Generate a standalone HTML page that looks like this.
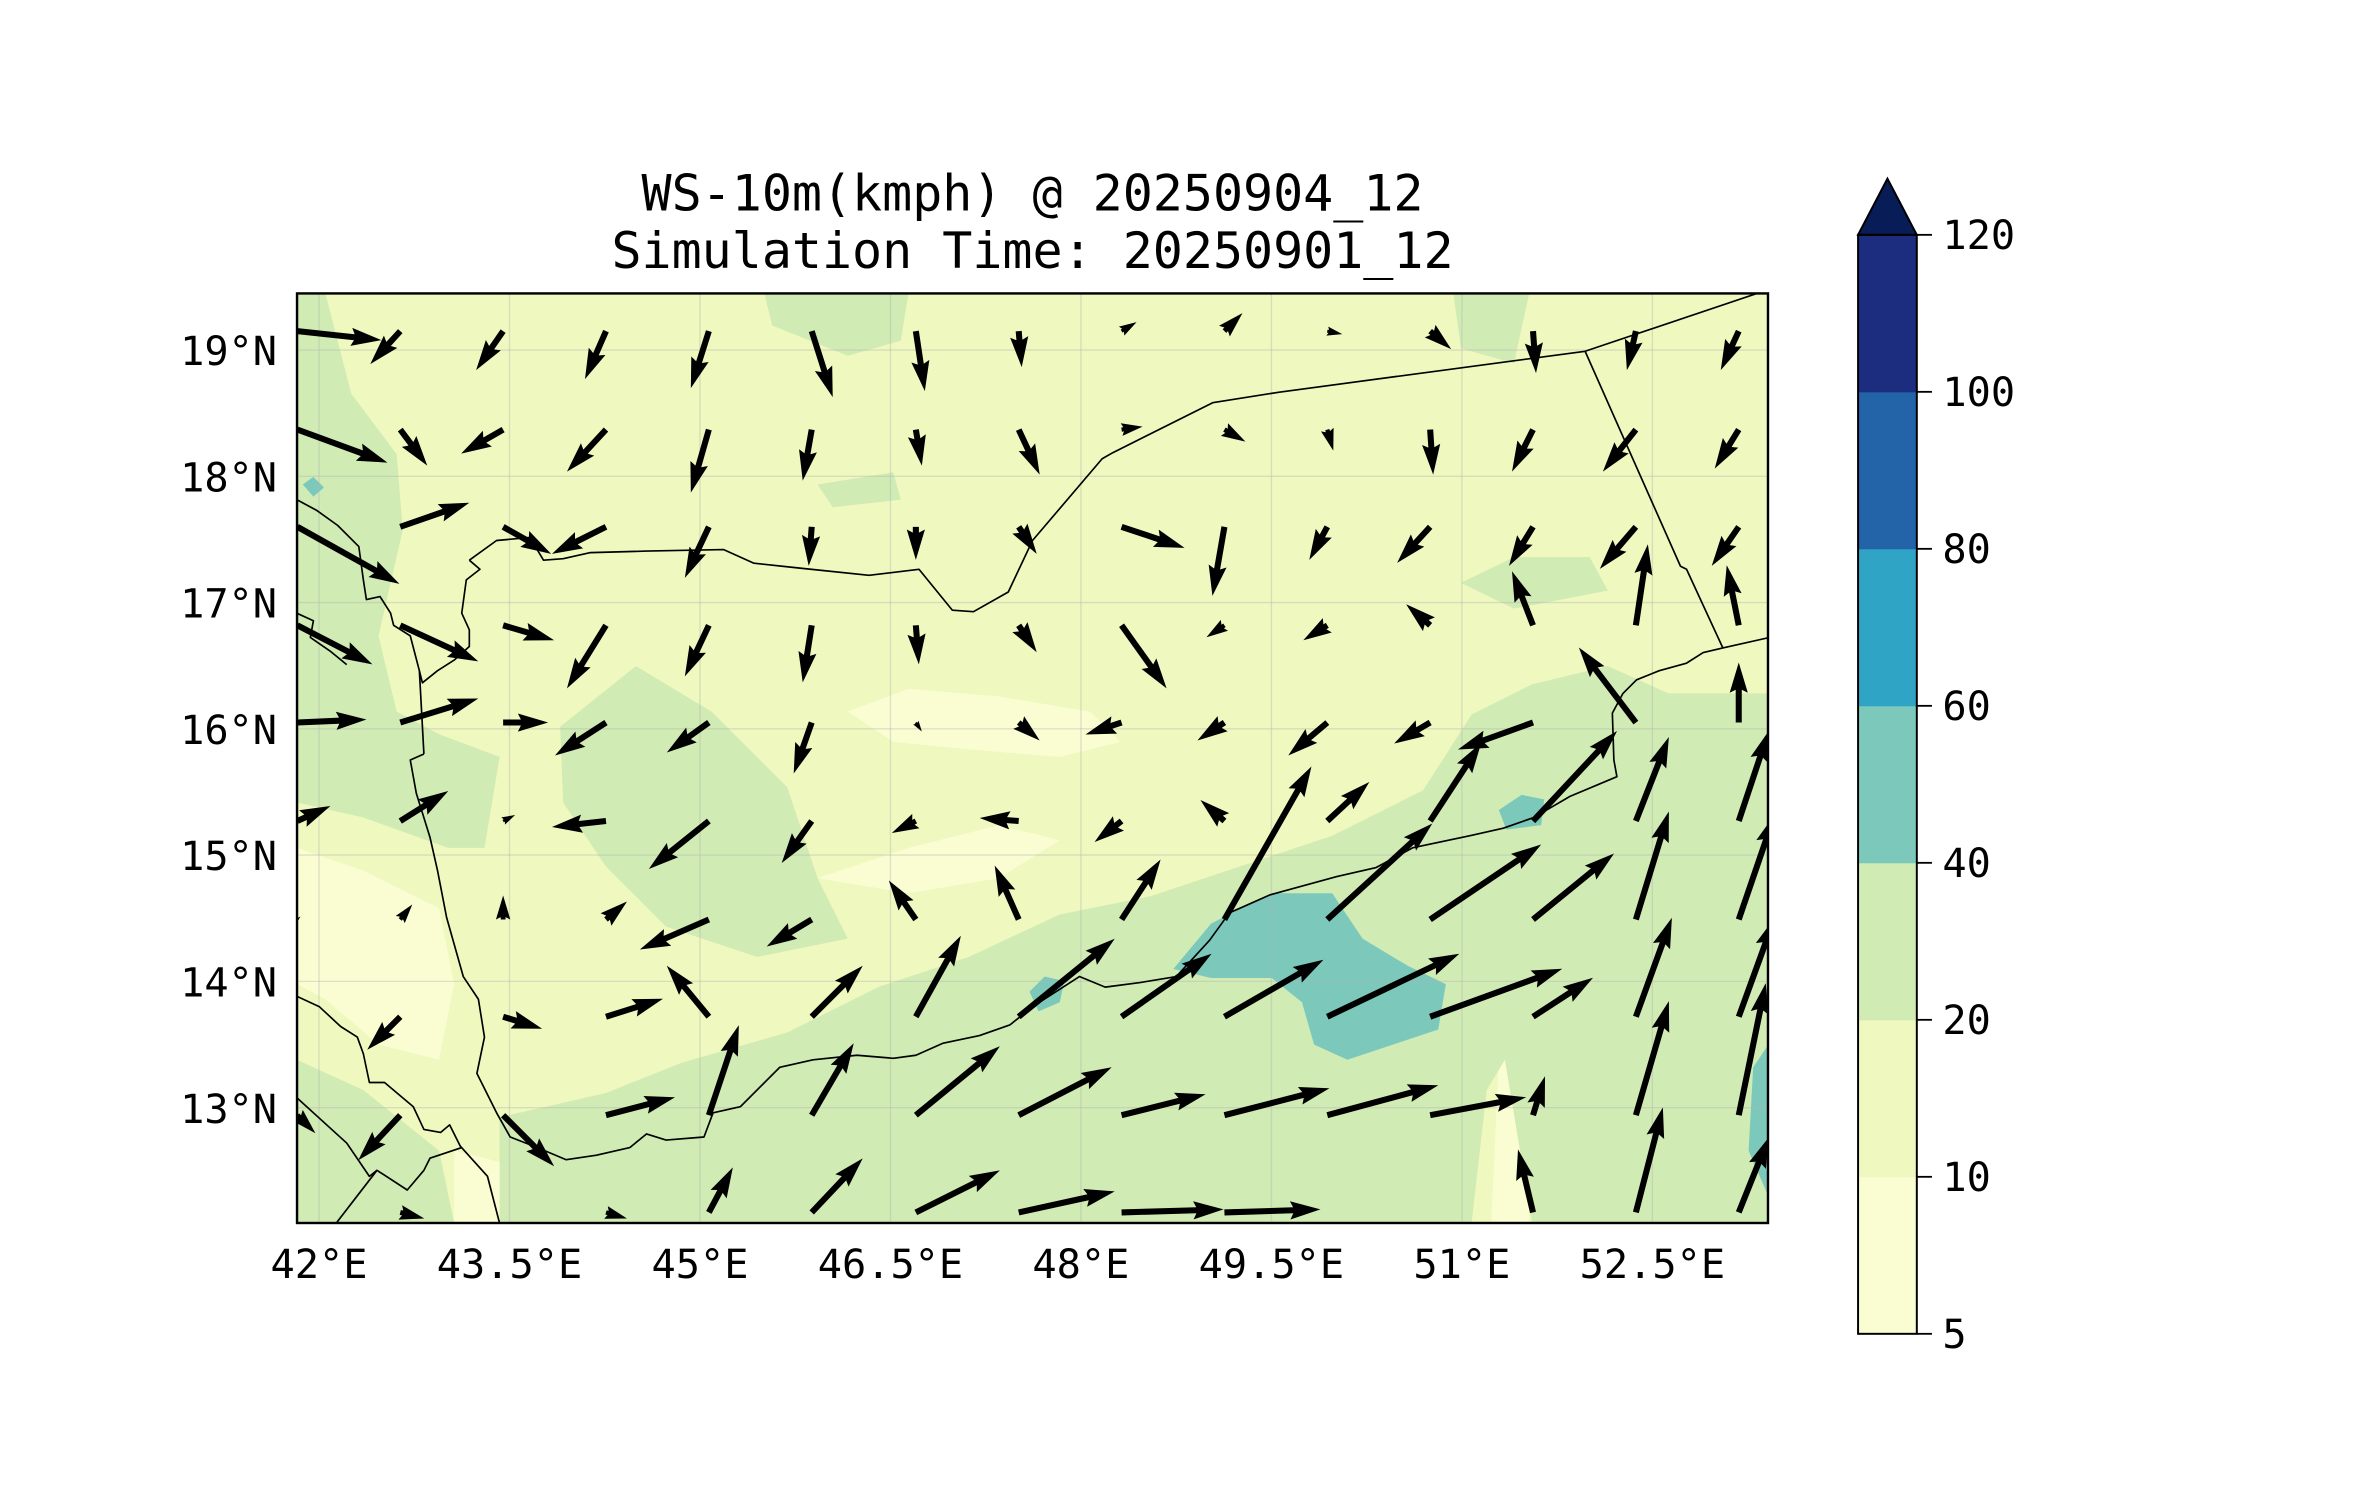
<!DOCTYPE html>
<html><head><meta charset="utf-8"><style>
html,body{margin:0;padding:0;background:#fff;}
svg{display:block;}
text{font-family:"DejaVu Sans Mono","Liberation Mono",monospace;fill:#000;}
</style></head><body>
<svg id="fig" width="2371" height="1500" viewBox="0 0 1566.1 990.75" xmlns="http://www.w3.org/2000/svg">
<defs><clipPath id="mapclip"><rect x="196.2" y="193.8" width="971.6" height="614"/></clipPath></defs>
<rect width="1566.1" height="990.75" fill="#fff"/>
<text x="682" y="139" font-size="33" text-anchor="middle">WS-10m(kmph) @ 20250904_12</text>
<text x="682" y="177" font-size="33" text-anchor="middle">Simulation Time: 20250901_12</text>
<g id="map" clip-path="url(#mapclip)">
<rect x="196.2" y="193.8" width="971.6" height="614" fill="#eff8bf"/>
<g fill="#fafdd2">
<polygon points="196,560 240,575 290,600 300,650 290,700 250,690 215,660 196,650"/>
<polygon points="300,760 340,770 400,775 450,770 470,808 300,808"/>
<polygon points="560,470 600,455 660,460 720,470 740,490 700,500 640,495 590,490"/>
<polygon points="990,700 1010,700 1010,808 985,808"/>
<polygon points="540,580 600,560 660,545 700,555 660,580 600,590"/>
</g>
<g fill="#d0ebb3">
<polygon points="196,194 215,194 232,260 262,300 266,350 250,420 262,470 290,485 330,500 320,560 296,560 240,540 196,530"/>
<polygon points="370,480 420,440 470,470 520,520 540,580 560,620 500,632 440,612 400,572 372,530"/>
<polygon points="330,738 400,722 450,702 520,682 580,652 640,632 700,604 760,592 820,572 880,552 940,522 972,472 1012,452 1062,440 1102,458 1168,458 1168,808 1012,808 1004,760 994,700 982,720 972,808 330,808"/>
<polygon points="505,194 600,194 595,225 560,235 510,215"/>
<polygon points="960,194 1010,194 1000,240 965,230"/>
<polygon points="965,385 1000,368 1050,368 1062,390 1000,402"/>
<polygon points="196,700 240,720 290,760 300,808 196,808"/>
<polygon points="540,320 590,312 595,330 550,335"/>
</g>
<g fill="#7cc9bc">
<polygon points="775,640 800,610 840,590 880,590 900,620 930,638 955,650 950,680 920,690 890,700 868,690 860,662 840,646 800,646"/>
<polygon points="680,655 690,645 703,648 700,662 686,668"/>
<polygon points="1158,705 1168,690 1168,790 1155,760"/>
<polygon points="990,535 1005,525 1020,528 1018,545 995,548"/>
<polygon points="200,320 207,315 214,322 207,328"/>
</g>
<g id="grid"></g>
<g fill="none" stroke="#000" stroke-width="1.1" stroke-linejoin="round">
<polyline points="310,370 328,357 350,355 359,370 372,369 390,365 427,364 478,363 498,372 526,375 574,380 607,376 629,403 643,404 666,391 682,357 728,303 735,299 801,266 845,259 1047,232 1160,194 1168,192"/>
<polyline points="1047,232 1110,374 1114,376 1138,428"/>
<polyline points="1169,421 1138,428 1125,431 1114,438 1096,443 1081,449 1072,458 1065,471 1066,502 1068,513 1037,526 1013,540 993,547 971,552 933,560 909,573 883,579 839,591 812,603 799,621 777,645 753,649 730,652 713,645 682,665 667,677 647,684 623,689 605,697 590,699 566,697 537,700 515,705 489,731 471,735 465,751 440,753 427,749 416,758 394,763 374,766 355,758 337,751 328,735 315,709 320,685 316,660 306,645 295,606 289,575 284,553 275,524 271,502 280,498"/>
<polyline points="310,370 317,376 308,383 305,405 310,416 310,427 300,436 289,443 279,451 277,443"/>
<polyline points="196,330 209,337 223,347 237,361 240,383 242,396 251,394 258,405 260,413 271,420 277,443 280,498"/>
<polyline points="196,405 207,410 205,421 218,430 229,439"/>
<polyline points="196,658 211,665 225,678 236,685 240,696 244,715 254,715 273,731 280,746 291,748 297,743 304,757 322,777 330,808"/>
<polyline points="196,725 229,755 244,777 249,773 269,786 280,773 284,765 305,758"/>
<polyline points="222,808 249,773"/>
</g>
<g id="quiver"></g>
</g>
<rect x="196.2" y="193.8" width="971.6" height="614" fill="none" stroke="#000" stroke-width="1.6"/>
<g id="axes"></g>
<g id="cbar"></g>
</svg>
<script>
// ---- chart data ----
const lonTicks = [42, 43.5, 45, 46.5, 48, 49.5, 51, 52.5];
const lonTickLabels = ["42°E","43.5°E","45°E","46.5°E","48°E","49.5°E","51°E","52.5°E"];
const latTicks = [13, 14, 15, 16, 17, 18, 19];
const latTickLabels = ["13°N","14°N","15°N","16°N","17°N","18°N","19°N"];
const gridLons = [41.83,42.64,43.45,44.26,45.07,45.88,46.70,47.51,48.32,49.13,49.94,50.75,51.56,52.37,53.18];
const gridLats = [19.15,18.37,17.60,16.82,16.05,15.27,14.49,13.72,12.94,12.17];
const windU = [
 [28,-10,-9,-7,-6,7,3,1,5,6,5,7,1,-3,-6],
 [30,9,-14,-13,-6,-3,2,7,7,7,2,1,-7,-11,-8],
 [34,23,16,-18,-8,-1,0,6,21,-4,-6,-11,-8,-12,-9],
 [25,26,17,-13,-8,-3,1,6,15,-6,-8,-8,-7,4,-4],
 [23,26,15,-17,-14,-6,2,7,-12,-9,-13,-12,-25,-19,0],
 [11,16,4,-18,-20,-10,-8,-13,-9,-8,14,17,28,11,10],
 [1,4,0,7,-23,-15,-9,-8,13,29,35,37,27,11,12],
 [0,-11,13,19,-14,17,15,32,30,33,44,44,20,12,12],
 [6,-14,17,23,10,14,28,31,28,35,37,32,4,11,9],
 [0,8,0,7,8,17,28,32,34,32,0,0,-5,9,10]
];
const windV = [
 [-3,-11,-13,-16,-19,-22,-20,-12,3,6,-1,-6,-14,-13,-13],
 [-11,-12,-8,-14,-21,-17,-12,-15,1,-4,-7,-15,-14,-14,-13],
 [-19,8,-9,-9,-17,-13,-11,-9,-7,-23,-11,-12,-13,-14,-13],
 [-13,-12,-5,-21,-17,-19,-13,-9,-21,-4,-5,7,18,27,20],
 [1,8,0,-11,-10,-17,-3,-6,-4,-6,-11,-7,-9,25,20],
 [5,10,2,-2,-16,-14,-4,1,-7,7,13,26,30,28,30],
 [1,5,8,6,-10,-9,13,18,20,51,32,25,22,36,35],
 [0,-11,-4,6,17,17,27,26,21,19,21,16,13,33,33],
 [-6,-15,-17,6,30,24,23,16,7,9,10,6,13,38,44],
 [0,-2,0,-2,15,18,14,7,1,1,0,0,21,35,25]
];
const cbarLevels = [5, 10, 20, 40, 60, 80, 100, 120];
const cbarLabels = ["5","10","20","40","60","80","100","120"];
const cbarColors = ["#fafdd2","#eff8bf","#d0ebb3","#7cc9bc","#2fa4c4","#2363a8","#1c2c7e"];
const cbarExtendColor = "#081d58";

const NS = "http://www.w3.org/2000/svg";
function mk(tag, attrs, parent){const e=document.createElementNS(NS,tag);for(const k in attrs)e.setAttribute(k,attrs[k]);parent.appendChild(e);return e;}
// axis functions (display units)
const xLon = lon => 210.7 + (lon - 42) * 83.88;
const yLat = lat => 231.2 + (19 - lat) * 83.4;
const pxPerUnit = 1.982;

// gridlines
const grid = document.getElementById('grid');
lonTicks.forEach((lon,i)=>{
  const l = mk('line',{x1:xLon(lon),x2:xLon(lon),y1:193.8,y2:807.8,stroke:'#b4b4b4','stroke-opacity':0.4,'stroke-width':0.9},grid);
  
  
});
latTicks.forEach((lat,i)=>{
  const l = mk('line',{x1:196.2,x2:1167.8,y1:yLat(lat),y2:yLat(lat),stroke:'#b4b4b4','stroke-opacity':0.4,'stroke-width':0.9},grid);
  
  
});

// axis labels
const axes = document.getElementById('axes');
lonTicks.forEach((lon,i)=>{
  const t = mk('text',{x:xLon(lon),y:844,'font-size':26.6,'text-anchor':'middle'},axes);
  t.textContent = lonTickLabels[i];
  
  
});
latTicks.forEach((lat,i)=>{
  const t = mk('text',{x:183,y:yLat(lat)+10,'font-size':26.6,'text-anchor':'end'},axes);
  t.textContent = latTickLabels[i];
  
  
});

// quiver
const q = document.getElementById('quiver');
const W = 4.0, HW = 3*W, HL = 5*W, HAL = 4.5*W;
for(let r=0;r<gridLats.length;r++){
  for(let c=0;c<gridLons.length;c++){
    const u = windU[r][c], v = windV[r][c];
    const dx = u*pxPerUnit, dy = -v*pxPerUnit;
    let L = Math.hypot(dx,dy);
    if(L < 0.5) continue;
    let s = 1, Ld = L;
    if(L < HL){ s = L/HL; Ld = HL; }
    const pts = [[0,-W/2],[Ld-HAL,-W/2],[Ld-HL,-HW/2],[Ld,0],[Ld-HL,HW/2],[Ld-HAL,W/2],[0,W/2]];
    const ang = Math.atan2(dy,dx), ca=Math.cos(ang), sa=Math.sin(ang);
    const x0 = xLon(gridLons[c]), y0 = yLat(gridLats[r]);
    const p = pts.map(([a,b])=>{a*=s;b*=s;return (x0+a*ca-b*sa).toFixed(2)+','+(y0+a*sa+b*ca).toFixed(2);}).join(' ');
    const poly = mk('polygon',{points:p,fill:'#000'},q);
    
    
  }
}

// colorbar
const cb = document.getElementById('cbar');
const cbX = 1227.3, cbW = 38.8, cbStep = 103.7;
const yCb = i => 881 - i*cbStep;
for(let i=0;i<cbarColors.length;i++){
  const rct = mk('rect',{x:cbX,y:yCb(i+1),width:cbW,height:cbStep+0.3,fill:cbarColors[i]},cb);
  
  
}
const tri = mk('polygon',{points:`${cbX},${yCb(cbarLevels.length-1)} ${cbX+cbW/2},118 ${cbX+cbW},${yCb(cbarLevels.length-1)}`,fill:cbarExtendColor,stroke:'#000','stroke-width':1.3},cb);


const frame = mk('rect',{x:cbX,y:yCb(cbarLevels.length-1),width:cbW,height:yCb(0)-yCb(cbarLevels.length-1),fill:'none',stroke:'#000','stroke-width':1.3},cb);


cbarLevels.forEach((lv,i)=>{
  const tk = mk('line',{x1:cbX+cbW,x2:cbX+cbW+10,y1:yCb(i),y2:yCb(i),stroke:'#000','stroke-width':1.2},cb);
  
  
  const t = mk('text',{x:1283,y:yCb(i)+9.5,'font-size':26.6},cb);
  t.textContent = cbarLabels[i];
  
  
});
</script>
</body></html>
